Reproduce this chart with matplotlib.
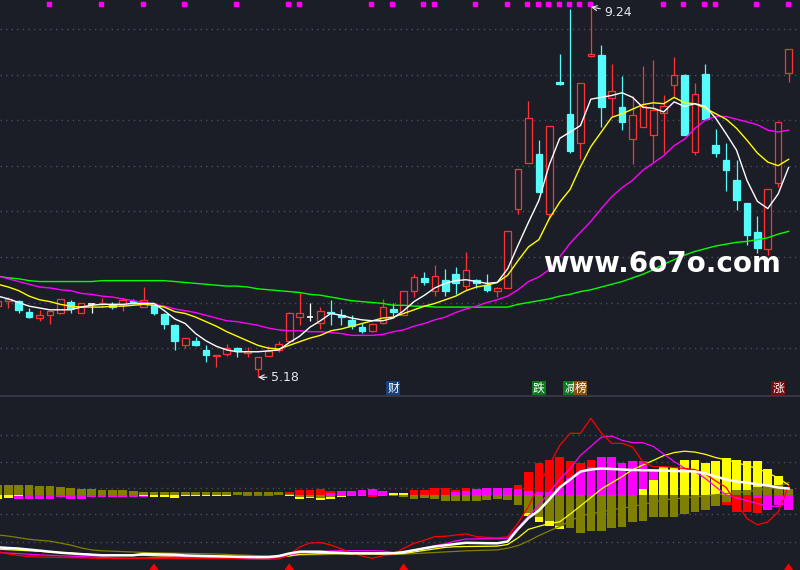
import matplotlib
matplotlib.use("Agg")
import matplotlib.pyplot as plt
from matplotlib.patches import Rectangle, Polygon
import matplotlib.transforms as mtransforms

# ---------------- data ----------------
opens = [5.96, 6.02, 6.02, 5.90, 5.83, 5.86, 5.88, 6.01, 5.89, 5.98,
         5.98, 5.98, 5.97, 6.02, 5.95, 5.98, 5.87, 5.75, 5.53, 5.58,
         5.48, 5.41, 5.44, 5.50, 5.45, 5.27, 5.41, 5.48, 5.58, 5.84,
         5.84, 5.78, 5.90, 5.86, 5.81, 5.73, 5.69, 5.77, 5.93, 5.86,
         6.13, 6.27, 6.13, 6.25, 6.31, 6.18, 6.25, 6.19, 6.13, 6.16,
         7.03, 7.53, 7.63, 6.97, 8.42, 8.07, 7.75, 8.70, 8.71, 8.24,
         8.14, 7.79, 7.92, 7.84, 8.08, 8.39, 8.49, 7.65, 8.51, 7.73,
         7.56, 7.34, 7.09, 6.77, 6.59, 7.31, 8.52]
highs = [6.03, 6.06, 6.03, 5.94, 5.92, 5.91, 6.04, 6.03, 6.00, 6.00,
         6.05, 6.01, 6.05, 6.04, 6.17, 6.00, 5.88, 5.76, 5.61, 5.62,
         5.53, 5.42, 5.54, 5.51, 5.51, 5.40, 5.52, 5.58, 5.90, 6.11,
         6.00, 5.95, 6.03, 5.93, 5.86, 5.78, 5.77, 6.04, 5.99, 6.13,
         6.31, 6.34, 6.41, 6.37, 6.39, 6.55, 6.26, 6.31, 6.17, 6.78,
         7.46, 8.21, 7.78, 7.94, 8.73, 9.22, 8.41, 9.24, 8.82, 8.62,
         8.48, 8.26, 8.59, 8.66, 8.28, 8.69, 8.51, 8.41, 8.62, 7.90,
         7.75, 7.56, 7.09, 6.95, 7.25, 7.98, 8.78]
lows = [5.95, 5.94, 5.89, 5.83, 5.80, 5.76, 5.87, 5.89, 5.89, 5.89,
        5.95, 5.93, 5.91, 5.98, 5.95, 5.86, 5.71, 5.48, 5.50, 5.52,
        5.35, 5.29, 5.41, 5.40, 5.40, 5.18, 5.41, 5.46, 5.58, 5.75,
        5.80, 5.71, 5.75, 5.75, 5.71, 5.67, 5.68, 5.76, 5.85, 5.86,
        6.06, 6.19, 6.07, 6.07, 6.09, 6.14, 6.16, 6.11, 6.06, 6.16,
        6.97, 7.53, 7.21, 6.92, 8.38, 7.64, 7.57, 8.69, 7.92, 8.04,
        7.89, 7.52, 7.92, 7.54, 7.64, 8.26, 7.84, 7.62, 8.01, 7.60,
        7.22, 7.01, 6.63, 6.54, 6.52, 7.27, 8.42]
closes = [6.02, 6.04, 5.92, 5.84, 5.86, 5.91, 6.04, 5.94, 5.99, 5.98,
          6.00, 5.95, 6.03, 5.99, 6.03, 5.89, 5.76, 5.58, 5.61, 5.53,
          5.42, 5.42, 5.50, 5.47, 5.47, 5.40, 5.47, 5.54, 5.88, 5.89,
          5.84, 5.91, 5.88, 5.84, 5.74, 5.69, 5.76, 5.95, 5.90, 6.13,
          6.28, 6.23, 6.29, 6.13, 6.21, 6.36, 6.21, 6.14, 6.16, 6.78,
          7.46, 8.02, 7.21, 7.94, 8.40, 7.66, 8.41, 8.72, 8.14, 8.32,
          7.98, 8.06, 8.16, 8.11, 8.16, 8.49, 7.84, 8.29, 8.01, 7.64,
          7.45, 7.12, 6.74, 6.60, 7.25, 7.98, 8.78]

ma5 = [6.07, 6.04, 6.00, 5.96, 5.94, 5.92, 5.92, 5.92, 5.95, 5.97,
       5.98, 5.98, 5.98, 5.99, 5.99, 5.99, 5.91, 5.82, 5.77, 5.66,
       5.58, 5.52, 5.48, 5.46, 5.46, 5.46, 5.47, 5.48, 5.56, 5.63,
       5.73, 5.80, 5.88, 5.86, 5.83, 5.81, 5.80, 5.80, 5.83, 5.91,
       6.01, 6.08, 6.16, 6.21, 6.24, 6.25, 6.23, 6.21, 6.22, 6.37,
       6.63, 6.88, 7.12, 7.51, 7.80, 7.87, 7.94, 8.23, 8.25, 8.27,
       8.30, 8.25, 8.14, 8.13, 8.09, 8.20, 8.15, 8.18, 8.15, 8.02,
       7.85, 7.67, 7.34, 7.11, 7.03, 7.19, 7.48]
ma10 = [6.20, 6.17, 6.13, 6.07, 6.03, 6.01, 5.98, 5.96, 5.95, 5.95,
        5.95, 5.96, 5.96, 5.97, 5.98, 5.97, 5.95, 5.90, 5.88, 5.84,
        5.79, 5.74, 5.68, 5.63, 5.58, 5.53, 5.50, 5.49, 5.53, 5.57,
        5.61, 5.64, 5.69, 5.71, 5.74, 5.77, 5.80, 5.83, 5.84, 5.88,
        5.92, 5.96, 5.99, 6.03, 6.07, 6.13, 6.17, 6.19, 6.22, 6.30,
        6.46, 6.61, 6.69, 6.92, 7.10, 7.24, 7.49, 7.71, 7.87, 8.03,
        8.07, 8.12, 8.17, 8.19, 8.18, 8.25, 8.19, 8.18, 8.13, 8.07,
        8.01, 7.91, 7.78, 7.64, 7.54, 7.50, 7.57]
ma20 = [6.29, 6.26, 6.23, 6.20, 6.17, 6.16, 6.14, 6.13, 6.10, 6.09,
        6.07, 6.06, 6.04, 6.02, 6.00, 5.98, 5.96, 5.93, 5.91, 5.89,
        5.86, 5.83, 5.80, 5.79, 5.77, 5.75, 5.72, 5.70, 5.69, 5.69,
        5.68, 5.68, 5.67, 5.66, 5.64, 5.64, 5.64, 5.65, 5.68, 5.70,
        5.74, 5.77, 5.81, 5.84, 5.89, 5.93, 5.96, 6.00, 6.03, 6.07,
        6.14, 6.23, 6.28, 6.36, 6.50, 6.65, 6.77, 6.89, 7.03, 7.16,
        7.26, 7.34, 7.45, 7.53, 7.61, 7.72, 7.79, 7.91, 8.00, 8.04,
        8.04, 8.01, 7.98, 7.95, 7.89, 7.87, 7.89]
ma60 = [6.29, 6.27, 6.26, 6.24, 6.23, 6.23, 6.23, 6.23, 6.23, 6.23,
        6.24, 6.24, 6.24, 6.24, 6.24, 6.24, 6.24, 6.23, 6.22, 6.21,
        6.20, 6.19, 6.18, 6.18, 6.17, 6.15, 6.14, 6.13, 6.12, 6.11,
        6.09, 6.08, 6.06, 6.04, 6.02, 6.01, 6.00, 5.99, 5.97, 5.97,
        5.96, 5.96, 5.95, 5.95, 5.95, 5.95, 5.95, 5.95, 5.95, 5.95,
        5.98, 6.00, 6.02, 6.04, 6.07, 6.09, 6.12, 6.14, 6.17, 6.20,
        6.23, 6.27, 6.31, 6.36, 6.42, 6.47, 6.52, 6.56, 6.59, 6.62,
        6.64, 6.66, 6.67, 6.69, 6.71, 6.75, 6.78]

signal_marks = [5, 10, 14, 18, 23, 28, 29, 36, 38, 41, 42, 46, 49, 51, 52,
                53, 54, 55, 56, 57, 64, 66, 68, 69, 73, 76]
high_label = (57, 9.24)
low_label = (25, 5.18)
badges = [(38, "财", "#17407e"), (52, "跌", "#0b7a1c"), (55, "减", "#0b7a1c"),
          (56, "榜", "#8a500c"), (75, "涨", "#7c0a0a")]
price_grid = [5.5, 6.0, 6.5, 7.0, 7.5, 8.0, 8.5, 9.0]

# lower indicator
bar_red = [0, 0, 0, -0.47, 0, 0, 0, 0, 0, 0,
           0, 0, 0, 0, 0, 0, 0, 0, 0, 0,
           0, 0, 0, 0, 0, 0, 0, 0, 0.3, 0.5,
           0.5, 0.6, 0.4, 0, 0, 0, -0.27, 0, 0, 0,
           0.5, 0.5, 0.7, 0.7, 0.5, 0.67, 0, 0, 0, 0,
           1.0, 2.3, 3.13, 3.5, 3.8, 3.4, 3.13, 3.5, 0, 0,
           0, 0, 0, 0, 0, 0, 0, 0, 0, 0,
           -1.0, -1.77, -1.77, -1.87, 0, 0, 0]
bar_magenta = [0, 0, -0.4, -0.4, -0.4, -0.4, -0.27, -0.4, -0.4, -0.27,
               -0.2, -0.2, -0.2, -0.2, -0.2, 0, 0, 0, 0, 0,
               0, 0, 0, 0, -0.1, -0.1, -0.1, 0, 0, 0,
               0, 0, 0.2, 0.4, 0.4, 0.5, 0.6, 0.4, 0, 0,
               0, 0, 0, 0, 0.23, 0.4, 0.57, 0.67, 0.67, 0.67,
               0.6, 0.4, 0.23, 0.23, 0.67, 1.63, 2.23, 2.8, 3.8, 3.8,
               3.13, 3.4, 3.4, 2.47, 0, 0, 0, 0, 0, 0,
               0, 0, 0, -0.33, -1.53, -1.0, -1.5]
bar_yellow = [-0.43, -0.37, -0.1, 0, 0, 0, 0, 0, 0, 0,
              0, 0, 0, 0, -0.1, -0.2, -0.2, -0.3, -0.1, -0.1,
              -0.1, -0.1, -0.1, 0, 0, 0, 0, 0, -0.1, -0.43,
              -0.3, -0.57, -0.4, -0.2, 0, 0, 0, 0, 0.2, 0.2,
              0, 0, 0, 0, 0, 0, 0, 0, 0, 0,
              0, -2.1, -2.77, -3.1, -3.43, 0, 0, 0, 0, 0,
              0, 0, 0.57, 1.5, 2.73, 2.8, 3.47, 3.47, 3.13, 3.4,
              3.67, 3.47, 3.4, 3.4, 2.57, 1.9, 0.6]
bar_olive = [1.0, 1.0, 1.0, 1.0, 0.9, 0.9, 0.8, 0.7, 0.6, 0.6,
             0.5, 0.5, 0.5, 0.4, 0.3, 0.3, 0.3, 0.3, 0.3, 0.3,
             0.3, 0.3, 0.3, 0.3, 0.3, 0.3, 0.3, 0.3, 0.1, -0.25,
             -0.27, -0.3, -0.23, -0.17, -0.1, -0.1, -0.05, -0.1, -0.1, -0.2,
             -0.4, -0.37, -0.47, -0.6, -0.6, -0.67, -0.6, -0.53, -0.4, -0.53,
             -1.0, -1.87, -2.27, -2.6, -3.1, -3.33, -3.87, -3.67, -3.67, -3.37,
             -3.2, -2.77, -2.67, -2.27, -2.27, -2.27, -1.93, -1.77, -1.5, -1.1,
             -0.77, 0.5, 0.5, 0.8, 1.0, 1.0, 0.6]

line_white = [-5.28, -5.35, -5.41, -5.51, -5.61, -5.72, -5.82, -5.89, -5.96, -6.02,
              -6.08, -6.08, -6.08, -6.08, -5.95, -5.98, -6.0, -6.02, -6.1, -6.13,
              -6.16, -6.18, -6.2, -6.23, -6.25, -6.27, -6.26, -6.15, -5.9, -5.72,
              -5.72, -5.72, -5.8, -5.84, -5.88, -5.88, -5.88, -5.88, -5.88, -5.76,
              -5.57, -5.38, -5.2, -5.08, -4.95, -4.83, -4.85, -4.87, -4.88, -4.7,
              -3.45, -2.35, -1.6, -0.5, 0.7, 1.5, 2.3, 2.5, 2.6, 2.55,
              2.5, 2.45, 2.43, 2.41, 2.39, 2.35, 2.33, 2.3, 2.1, 1.8,
              1.5, 1.3, 1.17, 1.02, 0.9, 0.7, 0.6]
line_red = [-5.7, -5.95, -6.09, -6.23, -6.25, -6.27, -6.29, -6.31, -6.33, -6.36,
            -6.38, -6.38, -6.38, -6.38, -6.38, -6.38, -6.38, -6.38, -6.38, -6.38,
            -6.38, -6.38, -6.4, -6.43, -6.45, -6.45, -6.45, -6.45, -6.05, -5.25,
            -4.85, -4.8, -5.05, -5.43, -5.85, -6.15, -6.38, -6.12, -6.0, -5.38,
            -4.88, -4.57, -4.21, -4.18, -4.06, -3.93, -4.22, -4.28, -4.33, -4.23,
            -2.85, -1.2, 0.88, 2.95, 4.9, 6.12, 6.12, 7.62, 6.15, 5.12,
            5.12, 4.75, 3.25, 2.78, 2.78, 2.71, 2.6, 2.49, 2.05, 1.35,
            0.7, -0.9, -2.4, -3.03, -2.75, -1.75, 0.85]
line_magenta = [-5.81, -5.86, -5.91, -5.98, -6.04, -6.09, -6.13, -6.16, -6.2, -6.25,
                -6.29, -6.33, -6.37, -6.38, -6.35, -6.31, -6.28, -6.26, -6.24, -6.23,
                -6.22, -6.26, -6.31, -6.36, -6.41, -6.46, -6.47, -6.25, -6.01, -5.88,
                -5.8, -5.72, -5.64, -5.62, -5.62, -5.62, -5.62, -5.65, -5.78, -5.75,
                -5.55, -5.33, -5.12, -4.92, -4.64, -4.46, -4.44, -4.42, -4.41, -4.39,
                -3.3, -2.16, -1.06, 0.22, 1.53, 2.58, 3.92, 4.82, 5.73, 5.85,
                5.42, 5.18, 5.18, 4.81, 4.05, 3.3, 2.63, 2.29, 1.6, 0.77,
                -0.05, -0.34, -0.62, -0.9, -1.15, -1.2, 0.62]
line_yellow = [-5.47, -5.52, -5.57, -5.63, -5.68, -5.74, -5.79, -5.86, -5.93, -6.0,
               -6.07, -6.08, -6.08, -6.08, -6.08, -6.12, -6.16, -6.2, -6.22, -6.22,
               -6.22, -6.22, -6.22, -6.22, -6.22, -6.22, -6.22, -6.22, -6.15, -5.98,
               -5.95, -5.91, -5.89, -5.89, -5.9, -5.91, -5.92, -5.93, -5.94, -5.9,
               -5.75, -5.59, -5.44, -5.29, -5.22, -5.2, -5.19, -5.18, -5.16, -5.0,
               -4.33, -3.48, -3.18, -2.91, -2.73, -1.96, -1.14, -0.3, 0.55, 1.17,
               1.79, 2.48, 2.95, 3.41, 3.89, 4.19, 4.33, 4.24, 4.02, 3.69,
               3.47, 3.19, 2.89, 2.6, 2.16, 1.66, 0.95]
line_olive = [-4.04, -4.16, -4.32, -4.48, -4.58, -4.66, -4.86, -5.06, -5.34, -5.54,
              -5.63, -5.67, -5.71, -5.75, -5.8, -5.83, -5.85, -5.87, -5.89, -5.91,
              -5.93, -5.95, -5.99, -6.04, -6.07, -6.12, -6.15, -6.15, -6.12, -6.05,
              -6.02, -6.01, -5.99, -5.98, -5.98, -5.98, -5.98, -5.98, -5.98, -5.96,
              -5.91, -5.85, -5.8, -5.74, -5.69, -5.63, -5.6, -5.57, -5.54, -5.37,
              -5.11, -4.65, -4.11, -3.64, -3.2, -2.65, -2.15, -1.91, -1.72, -1.54,
              -1.36, -1.2, -0.99, -0.79, -0.55, -0.44, -0.34, -0.23, -0.13, -0.02,
              0.09, 0.19, 0.29, 0.4, 0.53, 0.79, 1.2]
buy_arrows = [15, 28, 39, 76]
ind_grid = [5.95, 3.22, 0.62, -1.98, -4.72]

# ---------------- style ----------------
BG = "#1c1e27"
RED = "#ff3333"
CYAN = "#54fcfc"
GRID = "#4b4e5a"
plt.rcParams['font.family'] = ['DejaVu Sans', 'Noto Sans CJK SC']

W, H = 800, 570
fig = plt.figure(figsize=(8, 5.7), dpi=100, facecolor=BG)
ax = fig.add_axes([0, 1 - 395 / H, 1, 395 / H], facecolor=BG)
ax2 = fig.add_axes([0, 0, 1, 172 / H], facecolor=BG)

XLIM = (0.2, 77.1)
for a in (ax, ax2):
    a.set_xlim(*XLIM)
    a.axis('off')
ax.set_ylim(4.986, 9.317)
ax2.set_ylim(-7.55, 9.65)

# dotted grid
for g in price_grid:
    ax.axhline(g, color=GRID, lw=1.0, ls=(0, (1, 3)), zorder=0)
for g in ind_grid:
    ax2.axhline(g, color=GRID, lw=1.0, ls=(0, (1, 3)), zorder=0)

# panel separator
fig.add_artist(plt.Line2D([0, 1], [1 - 396 / H, 1 - 396 / H],
                          transform=fig.transFigure, color="#3b3e49", lw=1.2))

# ---------------- candlesticks ----------------
BW = 0.64
LW = 0.9
for i, (o, hi, lo, c) in enumerate(zip(opens, highs, lows, closes)):
    if c > o:
        ax.vlines(i, c, hi, color=RED, lw=LW, zorder=2)
        ax.vlines(i, lo, o, color=RED, lw=LW, zorder=2)
        ax.add_patch(Rectangle((i - BW / 2, o), BW, c - o, facecolor=BG,
                               edgecolor=RED, lw=LW, zorder=2))
    elif c < o:
        ax.vlines(i, lo, hi, color=CYAN, lw=LW, zorder=2)
        ax.add_patch(Rectangle((i - BW / 2, c), BW, o - c, facecolor=CYAN,
                               edgecolor=CYAN, lw=LW, zorder=2))
    else:
        ax.vlines(i, lo, hi, color="white", lw=LW, zorder=2)
        ax.hlines(o, i - BW / 2, i + BW / 2, color="white", lw=1.2, zorder=2)

x = list(range(len(closes)))
ax.plot(x, ma60, color="#00ff00", lw=1.0, zorder=3)
ax.plot(x, ma20, color="#ff00ff", lw=1.0, zorder=3)
ax.plot(x, ma10, color="#ffff00", lw=1.0, zorder=3)
ax.plot(x, ma5, color="#ffffff", lw=1.0, zorder=3)

# signal squares along the top edge
top = mtransforms.blended_transform_factory(ax.transData, ax.transAxes)
ax.plot([m - 0.1 for m in signal_marks], [1 - 3.5 / 395] * len(signal_marks),
        ls='none', marker='s', ms=2.8, color="#ff00ff", transform=top,
        clip_on=False, zorder=5)

# extreme price labels
ax.annotate(f"{high_label[1]:.2f}", xy=high_label, xytext=(58.3, 9.185),
            color="#e4e8f0", fontsize=9, va='center', ha='left', zorder=6,
            arrowprops=dict(arrowstyle='->', color="#e4e8f0", lw=0.8,
                            shrinkA=1, shrinkB=0))
ax.annotate(f"{low_label[1]:.2f}", xy=low_label, xytext=(26.25, 5.18),
            color="#e4e8f0", fontsize=9, va='center', ha='left', zorder=6,
            arrowprops=dict(arrowstyle='->', color="#e4e8f0", lw=0.8,
                            shrinkA=1, shrinkB=0))

# event badges at the bottom of the price panel
bot = mtransforms.blended_transform_factory(ax.transData, ax.transAxes)
for idx, txt, col in badges:
    ax.text(idx, 7.0 / 395, txt, transform=bot, ha='center', va='center',
            fontsize=8.5, color="white", family=['Noto Sans CJK SC'],
            bbox=dict(boxstyle='square,pad=0.08', facecolor=col, edgecolor='none'),
            zorder=6)

# site watermark
fig.text(661.5 / W, 1 - 264 / H, "www.6o7o.com", ha='center', va='center',
         fontsize=20, fontweight='bold', color='white', zorder=10)

# ---------------- indicator panel ----------------
BWI = 0.84
ax2.bar(x, bar_red, width=BWI, color="#ff0000", zorder=2)
ax2.bar(x, bar_magenta, width=BWI, color="#ff00ff", zorder=2)
ax2.bar(x, bar_yellow, width=BWI, color="#ffff00", zorder=2)
ax2.bar(x, bar_olive, width=BWI, color="#808000", zorder=2)

ax2.plot(x, line_olive, color="#808000", lw=0.9, zorder=3)
ax2.plot(x, line_yellow, color="#ffff00", lw=0.9, zorder=3)
ax2.plot(x, line_magenta, color="#ff00ff", lw=0.9, zorder=3)
ax2.plot(x, line_red, color="#ff0000", lw=0.9, zorder=3)
ax2.plot(x, line_white, color="#ffffff", lw=1.8, zorder=4)

for b in buy_arrows:
    ax2.add_patch(Polygon([(b - 0.55, -7.7), (b + 0.55, -7.7), (b, -6.88)],
                          closed=True, facecolor="#ff0000", edgecolor='none',
                          zorder=5))

fig.savefig("out.png", dpi=100, facecolor=BG)
